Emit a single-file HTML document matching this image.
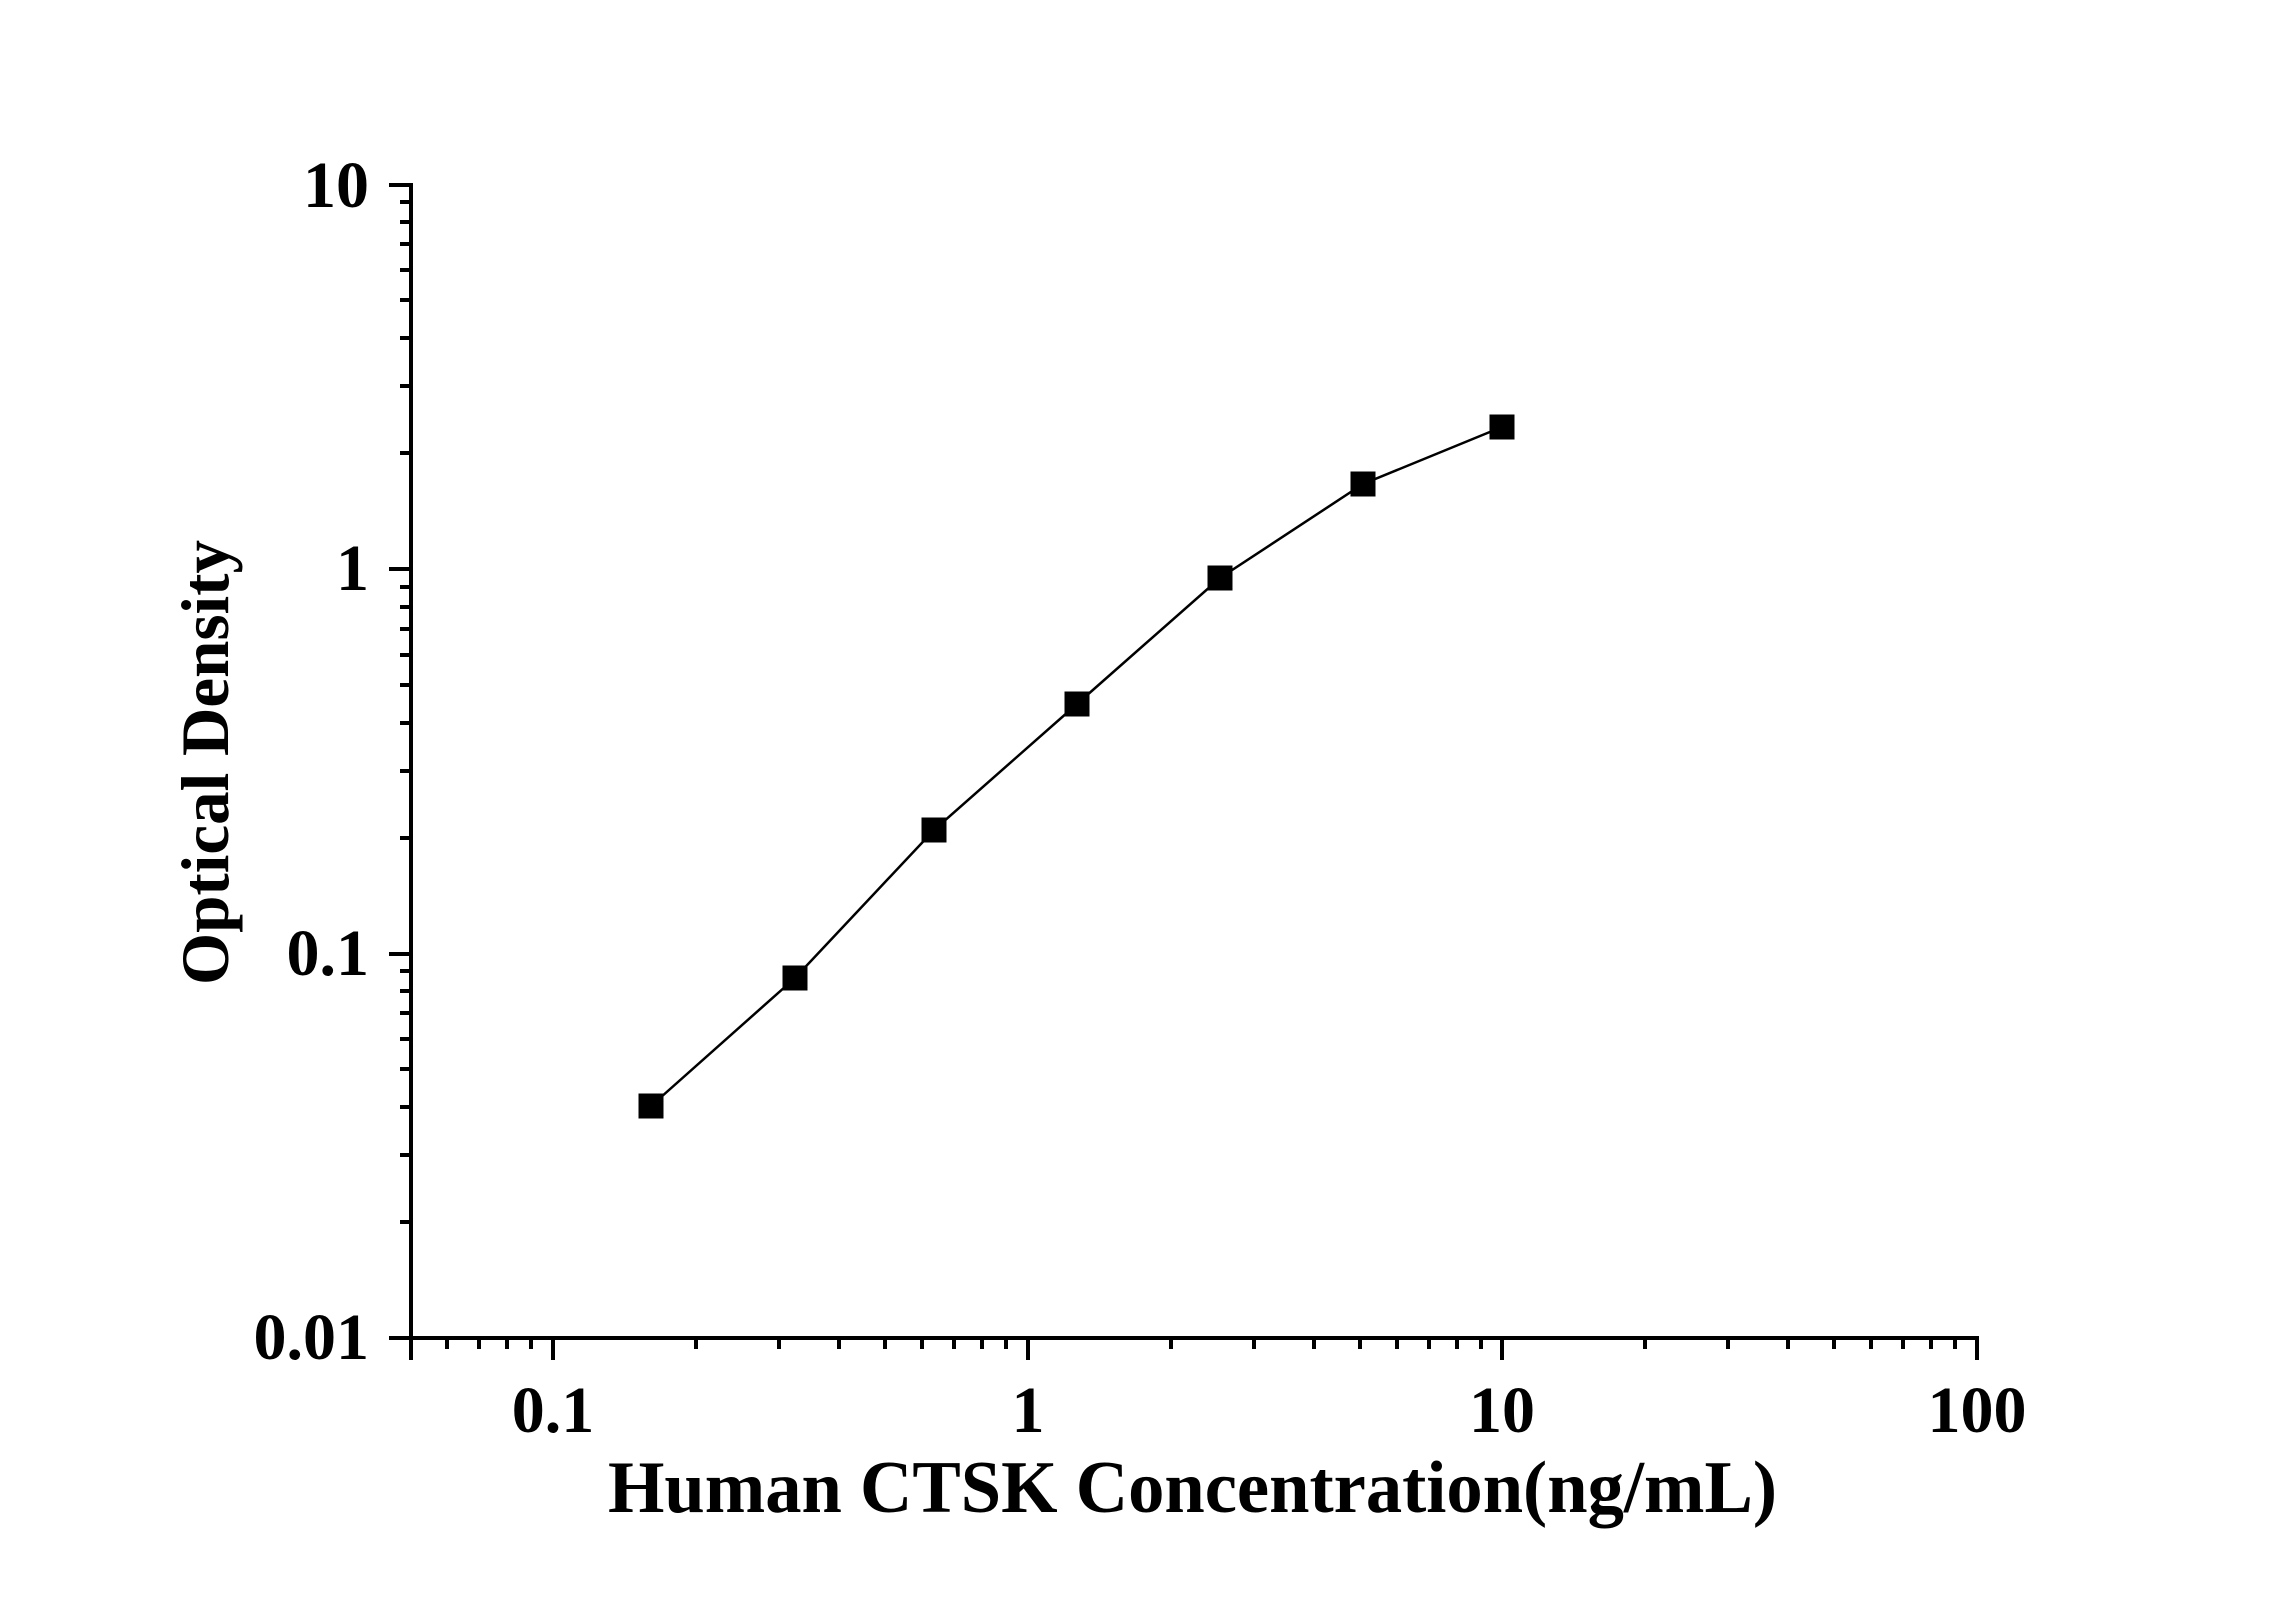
<!DOCTYPE html>
<html><head><meta charset="utf-8"><style>html,body{margin:0;padding:0;background:#fff}svg{display:block}</style></head>
<body>
<svg width="2296" height="1604" viewBox="0 0 2296 1604" xmlns="http://www.w3.org/2000/svg">
<rect width="2296" height="1604" fill="#fff"/>
<g stroke="#000" stroke-width="4" fill="none">
<path d="M411 183 V1340 M409 1338 H1979"/>
<path d="M411 185 H389 M411 569 H389 M411 954 H389 M411 1338 H389"/>
<path d="M411 1222H400M411 1155H400M411 1107H400M411 1069H400M411 1039H400M411 1013H400M411 991H400M411 971H400
M411 838H400M411 771H400M411 723H400M411 685H400M411 655H400M411 629H400M411 607H400M411 587H400
M411 453H400M411 386H400M411 338H400M411 300H400M411 270H400M411 244H400M411 222H400M411 202H400"/>
<path d="M411 1338V1360M553 1338V1360M1028 1338V1360M1502 1338V1360M1977 1336V1360"/>
<path d="M447 1338V1349M479 1338V1349M507 1338V1349M531 1338V1349
M696 1338V1349M779 1338V1349M839 1338V1349M885 1338V1349M922 1338V1349M954 1338V1349M982 1338V1349M1006 1338V1349
M1171 1338V1349M1254 1338V1349M1314 1338V1349M1360 1338V1349M1397 1338V1349M1429 1338V1349M1457 1338V1349M1481 1338V1349
M1645 1338V1349M1728 1338V1349M1788 1338V1349M1834 1338V1349M1871 1338V1349M1903 1338V1349M1931 1338V1349M1955 1338V1349"/>
</g>
<polyline points="651,1106 795,978 934,830 1077,704 1220,578 1363,484 1502,427" fill="none" stroke="#000" stroke-width="2.5"/>
<g fill="#000">
<rect x="638.5" y="1093.5" width="25" height="25"/>
<rect x="782.5" y="965.5" width="25" height="25"/>
<rect x="921.5" y="817.5" width="25" height="25"/>
<rect x="1064.5" y="691.5" width="25" height="25"/>
<rect x="1207.5" y="565.5" width="25" height="25"/>
<rect x="1350.5" y="471.5" width="25" height="25"/>
<rect x="1489.5" y="414.5" width="25" height="25"/>
</g>
<g font-family="Liberation Serif, serif" font-weight="bold" font-size="66" fill="#000">
<g text-anchor="end">
<text x="369" y="207">10</text>
<text x="369" y="590">1</text>
<text x="369" y="975">0.1</text>
<text x="369" y="1359">0.01</text>
</g>
<g text-anchor="middle">
<text x="553" y="1432">0.1</text>
<text x="1028" y="1432">1</text>
<text x="1502" y="1432">10</text>
<text x="1977" y="1432">100</text>
</g>
</g>
<text x="608" y="1512" font-family="Liberation Serif, serif" font-weight="bold" font-size="74" textLength="1169" lengthAdjust="spacingAndGlyphs">Human CTSK Concentration(ng/mL)</text>
<text transform="translate(228,985) rotate(-90)" x="0" y="0" font-family="Liberation Serif, serif" font-weight="bold" font-size="68" textLength="445" lengthAdjust="spacingAndGlyphs">Optical Density</text>
</svg>
</body></html>
